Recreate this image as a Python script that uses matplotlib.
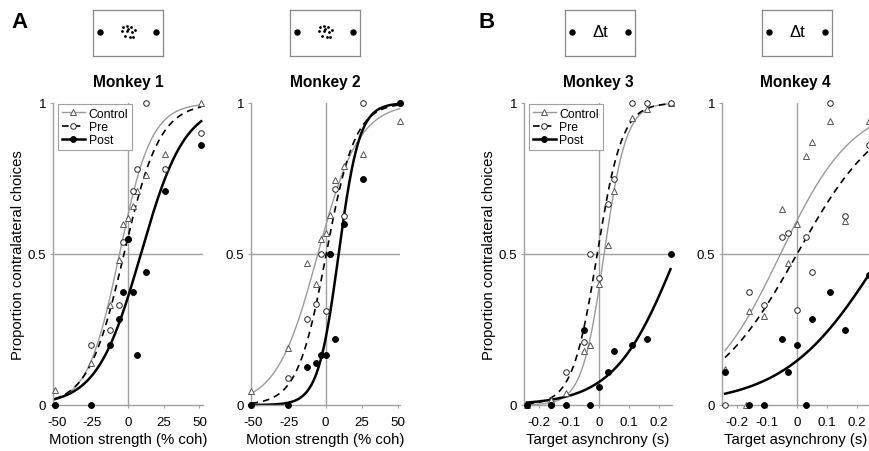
import numpy as np
import matplotlib
matplotlib.use("Agg")
import matplotlib.pyplot as plt
from matplotlib.lines import Line2D

plt.rcParams['font.family'] = ['Liberation Sans', 'DejaVu Sans']

# x values
coh = [-51.2, -25.6, -12.8, -6.4, -3.2, 0, 3.2, 6.4, 12.8, 25.6, 51.2]
dt = [-0.24, -0.16, -0.11, -0.05, -0.03, 0, 0.03, 0.05, 0.11, 0.16, 0.24]

# proportion contralateral choices
m1_control = [0.05, 0.14, 0.33, 0.48, 0.60, 0.62, 0.66, 0.71, 0.76, 0.83, 1.0]
m1_pre = [0.0, 0.20, 0.25, 0.33, 0.54, 0.55, 0.71, 0.78, 1.0, 0.78, 0.90]
m1_post = [0.0, 0.0, 0.20, 0.285, 0.375, 0.55, 0.375, 0.165, 0.44, 0.71, 0.86]

m2_control = [0.045, 0.19, 0.47, 0.40, 0.55, 0.57, 0.63, 0.745, 0.79, 0.83, 0.94]
m2_pre = [0.0, 0.09, 0.285, 0.333, 0.50, 0.31, 0.50, 0.715, 0.625, 1.0, 1.0]
m2_post = [0.0, 0.0, 0.125, 0.14, 0.165, 0.165, 0.50, 0.22, 0.60, 0.75, 1.0]

m3_control = [0.0, 0.015, 0.04, 0.18, 0.20, 0.40, 0.53, 0.71, 0.95, 0.98, 1.0]
m3_pre = [0.0, 0.0, 0.11, 0.21, 0.50, 0.42, 0.665, 0.75, 1.0, 1.0, 1.0]
m3_post = [0.0, 0.0, 0.0, 0.25, 0.0, 0.06, 0.11, 0.18, 0.20, 0.22, 0.50]

m4_control = [0.12, 0.31, 0.295, 0.65, 0.47, 0.60, 0.825, 0.87, 0.94, 0.61, 0.94]
m4_pre = [0.0, 0.373, 0.33, 0.555, 0.57, 0.315, 0.555, 0.44, 1.0, 0.625, 0.86]
m4_post = [0.11, 0.0, 0.0, 0.22, 0.11, 0.20, 0.0, 0.285, 0.373, 0.25, 0.43]
m4_control_extra_x = [-0.17]
m4_control_extra = [0.0]

# logistic fits: (point of subjective equality, slope)
m1_fits = {'Control': (-6.0, 0.089), 'Pre': (-2.8, 0.080), 'Post': (9.0, 0.065)}
m2_fits = {'Control': (-5.3, 0.070), 'Pre': (0.5, 0.100), 'Post': (9.1, 0.140)}
m3_fits = {'Control': (0.018, 27.0), 'Pre': (-0.005, 24.0), 'Post': (0.261, 9.6)}
m4_fits = {'Control': (-0.055, 8.2), 'Pre': (0.0, 7.0), 'Post': (0.284, 6.2)}

W, H = 869, 452
fig = plt.figure(figsize=(W / 100, H / 100), dpi=100)

GRAY = '#a0a0a0'
styles = {
    'Control': dict(line=dict(color='#9a9a9a', lw=1.0, ls='-'),
                    mk=dict(marker='^', mfc='white', mec='#555555', ms=4.2, mew=0.7)),
    'Pre': dict(line=dict(color='black', lw=1.2, ls=(0, (4, 3))),
                mk=dict(marker='o', mfc='white', mec='#222222', ms=4.0, mew=0.7)),
    'Post': dict(line=dict(color='black', lw=1.8, ls='-'),
                 mk=dict(marker='o', mfc='black', mec='black', ms=4.2, mew=0.7)),
}


def px_axes(x0, x1, y0, y1):
    return fig.add_axes([x0 / W, (H - y1) / H, (x1 - x0) / W, (y1 - y0) / H])


def logistic(x, x50, k):
    return 1.0 / (1.0 + np.exp(-k * (x - x50)))


def panel(rect, xs, data, fits, xlim, xticks, xticklabels, crange, xlabel, title, ylabel=None, legend=False):
    ax = px_axes(*rect)
    ax.set_xlim(*xlim)
    ax.set_ylim(0, 1)
    for s in ['top', 'right']:
        ax.spines[s].set_visible(False)
    for s in ['left', 'bottom']:
        ax.spines[s].set_color(GRAY)
        ax.spines[s].set_linewidth(1.0)
    ax.axhline(0.5, color=GRAY, lw=1.0, zorder=1)
    ax.axvline(0, color=GRAY, lw=1.0, zorder=1)
    xc = np.linspace(crange[0], crange[1], 200)
    for name in ['Control', 'Pre', 'Post']:
        x50, k = fits[name]
        ax.plot(xc, logistic(xc, x50, k), zorder=2, clip_on=False, **styles[name]['line'])
    for name in ['Control', 'Pre', 'Post']:
        ax.plot(xs, data[name], ls='none', zorder=3, clip_on=False, **styles[name]['mk'])
    ax.set_yticks([0, 0.5, 1])
    ax.set_yticklabels(['0', '0.5', '1'])
    ax.set_xticks(xticks)
    ax.set_xticklabels(xticklabels)
    ax.tick_params(axis='both', colors=GRAY, labelcolor='black', labelsize=9.6, length=2, width=0.8)
    ax.tick_params(axis='x', pad=6)
    ax.tick_params(axis='y', pad=3)
    ax.set_xlabel(xlabel, fontsize=10.7, labelpad=3)
    if ylabel:
        ax.set_ylabel(ylabel, fontsize=10.7, labelpad=1.5)
    cx = (rect[0] + rect[1]) / 2
    fig.text(cx / W, 1 - 83 / H, title, ha='center', va='center', fontsize=11.2, fontweight='bold')
    if legend:
        handles = [Line2D([], [], **styles[n]['line'], **styles[n]['mk']) for n in ['Control', 'Pre', 'Post']]
        leg = ax.legend(handles, ['Control', 'Pre', 'Post'], loc='upper left',
                        bbox_to_anchor=(0.033, 0.997), borderaxespad=0, fontsize=8.8,
                        handlelength=1.9, handletextpad=0.3, labelspacing=0.1, borderpad=0.3,
                        fancybox=False, framealpha=1)
        leg.get_frame().set_edgecolor(GRAY)
        leg.get_frame().set_linewidth(0.8)
    return ax


# small stimulus icons
dot_offsets = [(-5, -5), (-1.5, -6.5), (2.5, -5), (-6, -1.5), (-1, -1), (4, 0),
               (7, -2), (-3.5, 3.5), (1.5, 4.5), (5, 5), (0, -3.5)]


def icon(x0, kind):
    ax = px_axes(x0, x0 + 70, 11, 57)
    ax.set_xlim(0, 70)
    ax.set_ylim(0, 46)
    ax.set_xticks([])
    ax.set_yticks([])
    for s in ax.spines.values():
        s.set_color('#888888')
        s.set_linewidth(0.9)
    ax.plot([7, 63], [24, 24], 'o', color='black', ms=3.6)
    if kind == 'dots':
        ax.plot([35 + d[0] for d in dot_offsets], [24 - d[1] for d in dot_offsets],
                'o', color='black', ms=1.0)
    else:
        ax.text(35, 24.5, '\u0394t', ha='center', va='center', fontsize=12)


ticks_coh = [-50, -25, 0, 25, 50]
ticks_dt = [-0.2, -0.1, 0, 0.1, 0.2]
lab_coh = ['-50', '-25', '0', '25', '50']
lab_dt = ['-0.2', '-0.1', '0', '0.1', '0.2']
ylab = 'Proportion contralateral choices'

panel((53, 203, 104, 406), coh, {'Control': m1_control, 'Pre': m1_pre, 'Post': m1_post},
      m1_fits, (-52.5, 52.5), ticks_coh, lab_coh, (-51.2, 51.2),
      'Motion strength (% coh)', 'Monkey 1', ylabel=ylab, legend=True)
panel((251, 400, 104, 406), coh, {'Control': m2_control, 'Pre': m2_pre, 'Post': m2_post},
      m2_fits, (-51.5, 51.5), ticks_coh, lab_coh, (-51.2, 51.2),
      'Motion strength (% coh)', 'Monkey 2')
panel((524, 672, 104, 406), dt, {'Control': m3_control, 'Pre': m3_pre, 'Post': m3_post},
      m3_fits, (-0.25, 0.245), ticks_dt, lab_dt, (-0.24, 0.24),
      'Target asynchrony (s)', 'Monkey 3', ylabel=ylab, legend=True)
ax4 = panel((722, 869, 104, 406), dt, {'Control': m4_control, 'Pre': m4_pre, 'Post': m4_post},
            m4_fits, (-0.25, 0.24), ticks_dt, lab_dt, (-0.24, 0.25),
            'Target asynchrony (s)', 'Monkey 4')
ax4.plot(m4_control_extra_x, m4_control_extra, ls='none', zorder=2.5, clip_on=False,
         **styles['Control']['mk'])

icon(93, 'dots')
icon(290, 'dots')
icon(565, 'dt')
icon(762, 'dt')

fig.text(20 / W, 1 - 22 / H, 'A', ha='center', va='center', fontsize=16, fontweight='bold')
fig.text(487 / W, 1 - 22 / H, 'B', ha='center', va='center', fontsize=16, fontweight='bold')

fig.savefig('out.png', dpi=100)
